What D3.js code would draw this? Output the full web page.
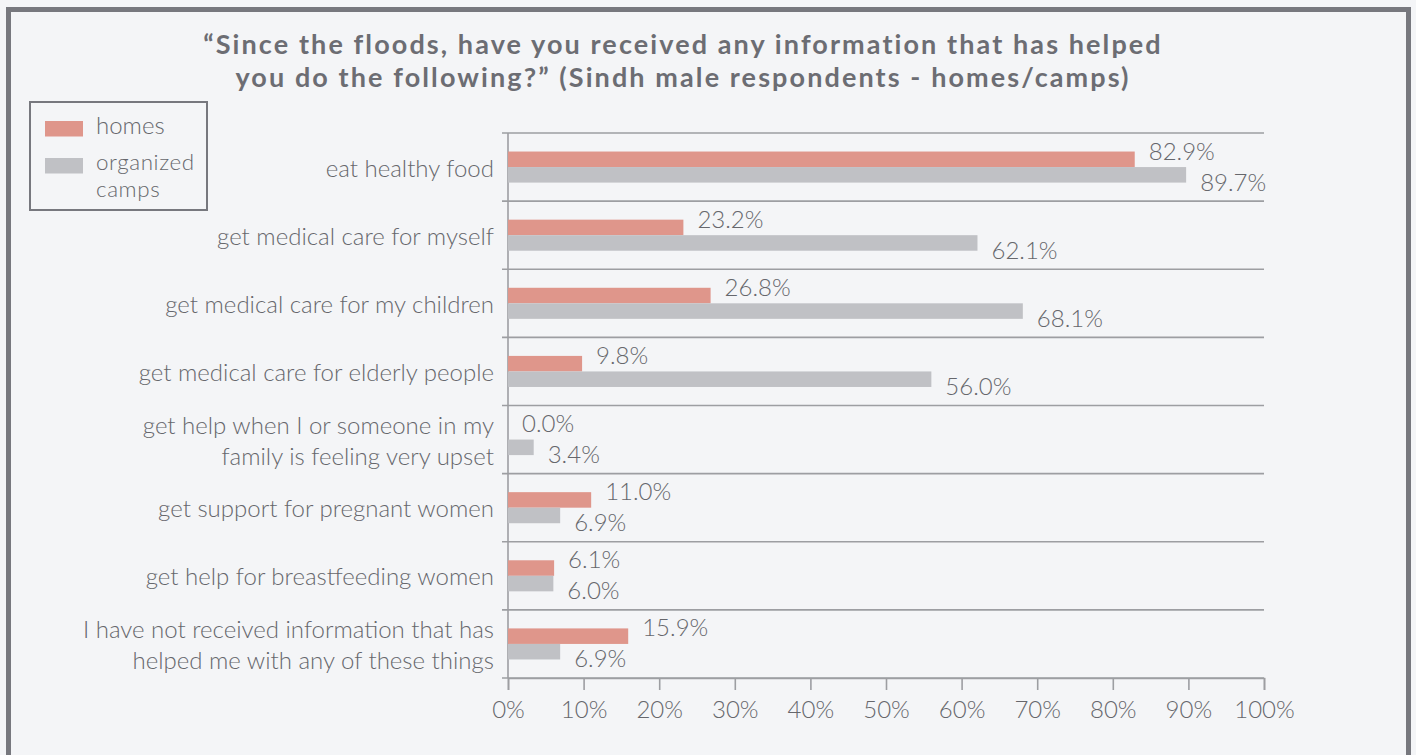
<!DOCTYPE html>
<html>
<head>
<meta charset="utf-8">
<script src="https://cdn.jsdelivr.net/npm/d3@7"></script>
<style>
  html, body { margin: 0; padding: 0; background: #f4f5f7; }
  svg { display: block; }
  text { font-family: "Lato", "Open Sans", sans-serif; font-weight: 300; fill: #66676c; }
</style>
</head>
<body>
<svg id="chart" width="1416" height="755"></svg>
<script>
// Survey answers, one row per category (label lines split on "\n")
const categories = [
  "eat healthy food",
  "get medical care for myself",
  "get medical care for my children",
  "get medical care for elderly people",
  "get help when I or someone in my\nfamily is feeling very upset",
  "get support for pregnant women",
  "get help for breastfeeding women",
  "I have not received information that has\nhelped me with any of these things"
];
const seriesNames = ["homes", "organized camps"];
const homesValues = [82.9, 23.2, 26.8, 9.8, 0.0, 11.0, 6.1, 15.9];
const campsValues = [89.7, 62.1, 68.1, 56.0, 3.4, 6.9, 6.0, 6.9];
const xTicks = [0, 10, 20, 30, 40, 50, 60, 70, 80, 90, 100];
const titleLines = [
  "\u201CSince the floods, have you received any information that has helped",
  "you do the following?\u201D (Sindh male respondents - homes/camps)"
];

const colors = { homes: "#df968b", camps: "#c0c1c5" };
const gray = "#77787e";
const gridColor = "#9d9ea2";
const fs = "24px";

const svg = d3.select("#chart");

// Outer frame
svg.append("rect")
  .attr("x", 8.5).attr("y", 9.5)
  .attr("width", 1400).attr("height", 760)
  .attr("fill", "#f4f5f7")
  .attr("stroke", gray).attr("stroke-width", 5);

// Title
svg.append("g").selectAll("text").data(titleLines).join("text")
  .attr("x", 683).attr("y", (d, i) => 54 + i * 33)
  .attr("text-anchor", "middle")
  .style("font-family", "Lato, sans-serif")
  .style("font-size", "27px").style("font-weight", "bold")
  .style("letter-spacing", "2.1px")
  .style("fill", "#6c6d73")
  .text(d => d);

// Scales
const margin = { left: 508, right: 1264, top: 133, bottom: 678 };
const x = d3.scaleLinear().domain([0, 100]).range([margin.left, margin.right]);
const y = d3.scaleBand().domain(d3.range(categories.length)).range([margin.top, margin.bottom]);
const barH = y.bandwidth() * 0.228;

// Horizontal grid lines at band edges
const edges = d3.range(categories.length + 1).map(i => margin.top + i * y.bandwidth());
svg.append("g").selectAll("line").data(edges).join("line")
  .attr("x1", margin.left - 6).attr("x2", margin.right)
  .attr("y1", d => d).attr("y2", d => d)
  .attr("stroke", gridColor).attr("stroke-width", 1.6);

// Bottom axis
const xAxis = svg.append("g")
  .attr("transform", `translate(0,${margin.bottom})`)
  .call(d3.axisBottom(x).tickValues(xTicks).tickFormat(d => d + "%").tickSize(12).tickPadding(11));
xAxis.select(".domain").attr("stroke", gridColor).attr("stroke-width", 1.6);
xAxis.selectAll(".tick line").attr("stroke", gridColor).attr("stroke-width", 1.6);
xAxis.selectAll(".tick text")
  .style("font-size", fs).style("font-family", "Lato, sans-serif").style("font-weight", 300)
  .attr("fill", "#66676c");

// Left axis line
svg.append("line")
  .attr("x1", margin.left).attr("x2", margin.left)
  .attr("y1", margin.top).attr("y2", margin.bottom)
  .attr("stroke", gridColor).attr("stroke-width", 1.6);

// Bars and value labels
const rows = categories.map((c, i) => ({ i, c, homes: homesValues[i], camps: campsValues[i] }));
const g = svg.append("g");
rows.forEach(r => {
  const cy = y(r.i) + y.bandwidth() / 2;
  g.append("rect").attr("x", x(0)).attr("y", cy - barH)
    .attr("width", x(r.homes) - x(0)).attr("height", barH).attr("fill", colors.homes);
  g.append("rect").attr("x", x(0)).attr("y", cy)
    .attr("width", x(r.camps) - x(0)).attr("height", barH).attr("fill", colors.camps);
  g.append("text").attr("x", x(r.homes) + 14).attr("y", cy - 17)
    .attr("dominant-baseline", "central").style("font-size", fs)
    .text(r.homes.toFixed(1) + "%");
  g.append("text").attr("x", x(r.camps) + 14).attr("y", cy + 14)
    .attr("dominant-baseline", "central").style("font-size", fs)
    .text(r.camps.toFixed(1) + "%");
  // Category label
  const lines = r.c.split("\n");
  const t = g.append("text").attr("text-anchor", "end").style("font-size", fs);
  lines.forEach((ln, k) => {
    t.append("tspan").attr("x", margin.left - 14)
      .attr("y", cy + (k - (lines.length - 1) / 2) * 31)
      .attr("dominant-baseline", "central")
      .text(ln);
  });
});

// Legend
const legend = svg.append("g");
legend.append("rect").attr("x", 30).attr("y", 102).attr("width", 177).attr("height", 108)
  .attr("fill", "none").attr("stroke", gray).attr("stroke-width", 2);
legend.append("rect").attr("x", 45).attr("y", 121).attr("width", 38).attr("height", 15.5).attr("fill", colors.homes);
legend.append("rect").attr("x", 45).attr("y", 158).attr("width", 38).attr("height", 15.5).attr("fill", colors.camps);
legend.append("text").attr("x", 96).attr("y", 134).style("font-size", fs).text(seriesNames[0]);
const nameParts = seriesNames[1].split(" ");
legend.append("text").attr("x", 96).attr("y", 170).style("font-size", "22.4px")
  .style("letter-spacing", "0.6px").text(nameParts[0]);
legend.append("text").attr("x", 96).attr("y", 197).style("font-size", "22.4px")
  .style("letter-spacing", "0.6px").text(nameParts[1]);
</script>
</body>
</html>
